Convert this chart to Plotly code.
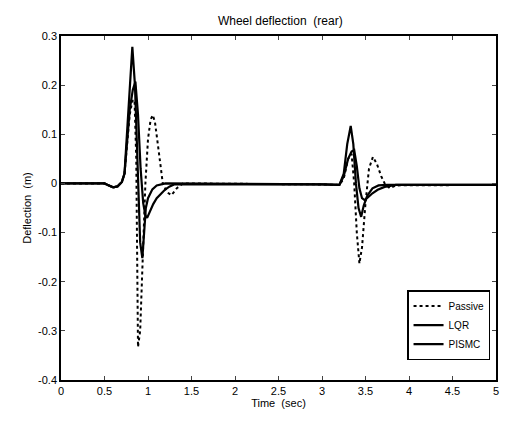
import plotly.graph_objects as go

# Passive suspension (dotted)
t_passive = [0, 0.5, 0.55, 0.6, 0.65, 0.7, 0.73, 0.76, 0.79, 0.82, 0.845, 0.865, 0.885, 0.91, 0.94, 0.97,
             1.0, 1.03, 1.055, 1.08, 1.12, 1.17, 1.22, 1.27, 1.33, 1.4, 3.0, 3.2, 3.25, 3.3, 3.34, 3.37,
             3.40, 3.43, 3.46, 3.5, 3.54, 3.585, 3.63, 3.68, 3.72, 3.78, 3.85, 5.0]
y_passive = [0, 0, -0.004, -0.008, -0.006, 0.003, 0.02, 0.08, 0.14, 0.168, 0.17, 0.05, -0.333, -0.30, -0.15, 0.0,
             0.09, 0.13, 0.139, 0.125, 0.07, 0.0, -0.018, -0.024, -0.01, 0, -0.002, -0.003, 0.01, 0.05, 0.06, 0.0,
             -0.10, -0.163, -0.13, -0.04, 0.03, 0.054, 0.04, 0.015, 0.0, -0.01, -0.004, -0.003]

# LQR (solid)
t_lqr = [0, 0.5, 0.55, 0.6, 0.65, 0.7, 0.73, 0.76, 0.79, 0.82, 0.85, 0.88, 0.91, 0.935, 0.955, 0.975,
         1.0, 1.05, 1.1, 1.2, 3.0, 3.2, 3.25, 3.29, 3.33, 3.36, 3.39, 3.42, 3.45, 3.48, 3.52, 3.58, 3.65, 3.75, 5.0]
y_lqr = [0, 0, -0.004, -0.008, -0.006, 0.003, 0.02, 0.10, 0.20, 0.278, 0.20, 0.02, -0.12, -0.152, -0.10, -0.05,
         -0.03, -0.012, -0.004, 0, -0.002, -0.003, 0.02, 0.08, 0.117, 0.08, 0.0, -0.05, -0.068, -0.045, -0.025, -0.01, -0.004, -0.003, -0.003]

# PISMC (solid)
t_pismc = [0, 0.5, 0.55, 0.6, 0.65, 0.7, 0.73, 0.76, 0.79, 0.825, 0.855, 0.885, 0.915, 0.945, 0.97, 0.99,
           1.02, 1.06, 1.1, 1.15, 1.2, 1.25, 1.3, 3.0, 3.2, 3.25, 3.3, 3.34, 3.37, 3.40, 3.43, 3.46, 3.49,
           3.53, 3.58, 3.64, 3.72, 3.85, 5.0]
y_pismc = [0, 0, -0.004, -0.008, -0.006, 0.003, 0.02, 0.08, 0.15, 0.19, 0.207, 0.14, 0.03, -0.04, -0.065, -0.07,
           -0.058, -0.042, -0.03, -0.02, -0.012, -0.006, -0.002, -0.002, -0.003, 0.015, 0.05, 0.065, 0.068, 0.035, -0.01, -0.03, -0.034,
           -0.028, -0.02, -0.013, -0.007, -0.003, -0.003]

x_ticks = [0, 0.5, 1, 1.5, 2, 2.5, 3, 3.5, 4, 4.5, 5]
x_labels = ["0", "0.5", "1", "1.5", "2", "2.5", "3", "3.5", "4", "4.5", "5"]
y_ticks = [-0.4, -0.3, -0.2, -0.1, 0, 0.1, 0.2, 0.3]
y_labels = ["-0.4", "-0.3", "-0.2", "-0.1", "0", "0.1", "0.2", "0.3"]

fig = go.Figure()
fig.add_trace(go.Scatter(x=t_passive, y=y_passive, mode="lines", name="Passive",
                         line=dict(color="black", width=2, dash="dot")))
fig.add_trace(go.Scatter(x=t_lqr, y=y_lqr, mode="lines", name="LQR",
                         line=dict(color="black", width=2.2)))
fig.add_trace(go.Scatter(x=t_pismc, y=y_pismc, mode="lines", name="PISMC",
                         line=dict(color="black", width=2.2)))

font = dict(family="Liberation Sans, Arial, sans-serif", size=11, color="black")
fig.update_layout(
    width=505, height=424,
    margin=dict(l=61, r=6, t=36, b=44),
    paper_bgcolor="white", plot_bgcolor="white",
    font=font,
    title=dict(text="Wheel deflection  (rear)", x=0.555, xanchor="center", y=0.952, yanchor="middle",
               font=dict(size=12, color="black")),
    legend=dict(x=0.987, y=0.057, xanchor="right", yanchor="bottom", bordercolor="black", borderwidth=1.2,
                bgcolor="white", font=dict(size=10), tracegroupgap=0, itemwidth=30),
    showlegend=True,
)
fig.update_xaxes(range=[0, 5], tickvals=x_ticks, ticktext=x_labels, ticks="inside", ticklen=4,
                 showline=True, linecolor="black", linewidth=1.5, mirror="ticks", showgrid=False,
                 zeroline=False, title=dict(text="Time  (sec)", standoff=2, font=dict(size=11)),
                 tickfont=dict(size=11))
fig.update_yaxes(range=[-0.4, 0.3], tickvals=y_ticks, ticktext=y_labels, ticks="inside", ticklen=4,
                 showline=True, linecolor="black", linewidth=1.5, mirror="ticks", showgrid=False,
                 zeroline=False, title=dict(text="Deflection  (m)", standoff=4, font=dict(size=11)),
                 tickfont=dict(size=11))

fig.write_html("out.html")
